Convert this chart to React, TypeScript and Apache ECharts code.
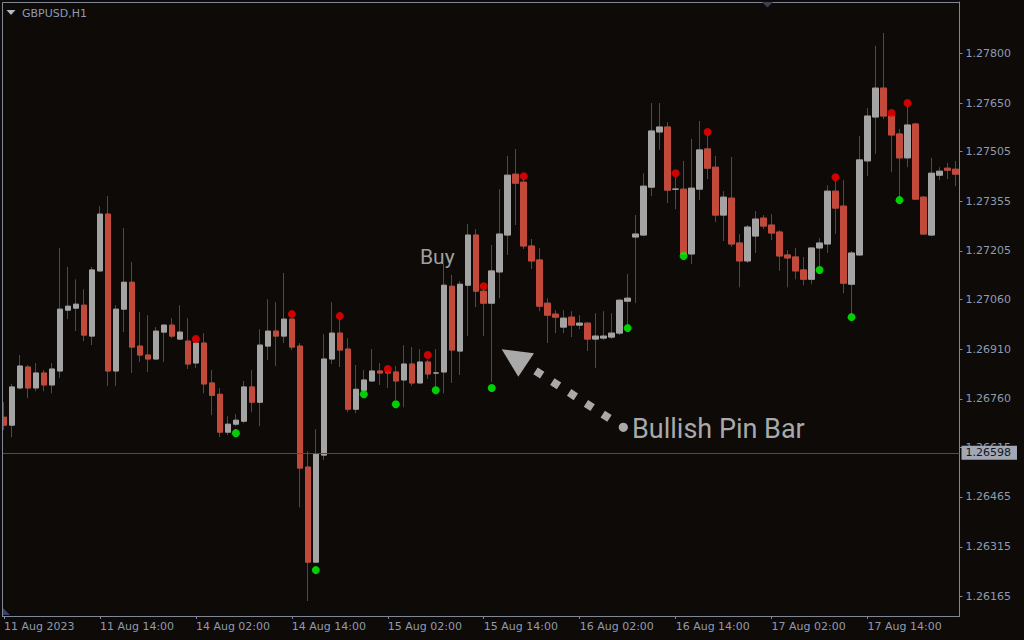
import React, { useEffect, useRef } from 'react';
import * as echarts from 'echarts';

const OPEN = [
  1.26705, 1.26681, 1.26793, 1.26856, 1.26793, 1.26838, 1.26802, 1.26844, 1.27027, 1.27033,
  1.27042, 1.26949, 1.27145, 1.27316, 1.26844, 1.27030, 1.27111, 1.26919, 1.26892, 1.26880,
  1.26961, 1.26982, 1.26940, 1.26934, 1.26868, 1.26928, 1.26808, 1.26774, 1.26660, 1.26684,
  1.26693, 1.26796, 1.26750, 1.26919, 1.26964, 1.26949, 1.27000, 1.26919, 1.26555, 1.26269,
  1.26591, 1.26880, 1.26958, 1.26910, 1.26729, 1.26786, 1.26814, 1.26844, 1.26841, 1.26841,
  1.26817, 1.26865, 1.26808, 1.26871, 1.26838, 1.26841, 1.27099, 1.26904, 1.27102, 1.27253,
  1.27084, 1.27048, 1.27142, 1.27253, 1.27436, 1.27412, 1.27220, 1.27178, 1.27048, 1.27015,
  1.26976, 1.27006, 1.26982, 1.26988, 1.26940, 1.26943, 1.26946, 1.26958, 1.27054, 1.27247,
  1.27253, 1.27397, 1.27563, 1.27578, 1.27391, 1.27391, 1.27196, 1.27391, 1.27512, 1.27457,
  1.27313, 1.27364, 1.27229, 1.27175, 1.27250, 1.27304, 1.27283, 1.27262, 1.27193, 1.27187,
  1.27148, 1.27120, 1.27214, 1.27226, 1.27385, 1.27340, 1.27105, 1.27193, 1.27476, 1.27608,
  1.27695, 1.27611, 1.27557, 1.27485, 1.27587, 1.27367, 1.27253, 1.27433, 1.27454, 1.27451,
];
const HIGH = [
  1.26750, 1.26805, 1.26892, 1.26862, 1.26868, 1.26847, 1.26868, 1.27214, 1.27157, 1.27120,
  1.27090, 1.27157, 1.27340, 1.27370, 1.27042, 1.27274, 1.27172, 1.27021, 1.27012, 1.26976,
  1.26985, 1.27003, 1.27042, 1.27003, 1.26931, 1.26958, 1.26847, 1.26793, 1.26708, 1.26714,
  1.26814, 1.26847, 1.26970, 1.27060, 1.27051, 1.27139, 1.27003, 1.26928, 1.26603, 1.26669,
  1.26955, 1.27051, 1.26997, 1.26943, 1.26862, 1.26847, 1.26910, 1.26868, 1.26847, 1.26859,
  1.26922, 1.26916, 1.26910, 1.26877, 1.26910, 1.27166, 1.27133, 1.27114, 1.27286, 1.27271,
  1.27090, 1.27223, 1.27391, 1.27491, 1.27512, 1.27421, 1.27241, 1.27214, 1.27063, 1.27027,
  1.27027, 1.27024, 1.27012, 1.26991, 1.27018, 1.27024, 1.27018, 1.27060, 1.27136, 1.27313,
  1.27439, 1.27650, 1.27650, 1.27593, 1.27427, 1.27476, 1.27542, 1.27596, 1.27551, 1.27491,
  1.27385, 1.27488, 1.27256, 1.27283, 1.27325, 1.27313, 1.27316, 1.27268, 1.27208, 1.27214,
  1.27187, 1.27217, 1.27244, 1.27403, 1.27415, 1.27418, 1.27205, 1.27551, 1.27635, 1.27822,
  1.27861, 1.27611, 1.27572, 1.27638, 1.27590, 1.27370, 1.27485, 1.27457, 1.27470, 1.27476,
];
const LOW = [
  1.26666, 1.26645, 1.26789, 1.26762, 1.26783, 1.26783, 1.26777, 1.26823, 1.27000, 1.26964,
  1.26934, 1.26922, 1.27142, 1.26799, 1.26799, 1.26961, 1.26838, 1.26871, 1.26841, 1.26877,
  1.26871, 1.26943, 1.26937, 1.26850, 1.26853, 1.26777, 1.26711, 1.26645, 1.26651, 1.26678,
  1.26687, 1.26720, 1.26678, 1.26877, 1.26859, 1.26928, 1.26907, 1.26434, 1.26152, 1.26266,
  1.26576, 1.26865, 1.26856, 1.26720, 1.26717, 1.26783, 1.26811, 1.26802, 1.26793, 1.26756,
  1.26735, 1.26799, 1.26805, 1.26820, 1.26796, 1.26777, 1.26808, 1.26832, 1.26949, 1.27036,
  1.26949, 1.26811, 1.27063, 1.27193, 1.27283, 1.27211, 1.27151, 1.27024, 1.26928, 1.26958,
  1.26958, 1.26946, 1.26970, 1.26904, 1.26853, 1.26937, 1.26940, 1.26952, 1.26985, 1.27048,
  1.27250, 1.27370, 1.27509, 1.27349, 1.27331, 1.27196, 1.27166, 1.27358, 1.27421, 1.27292,
  1.27235, 1.27217, 1.27096, 1.27169, 1.27199, 1.27271, 1.27238, 1.27145, 1.27096, 1.27120,
  1.27102, 1.27105, 1.27160, 1.27199, 1.27256, 1.27078, 1.27018, 1.27190, 1.27430, 1.27497,
  1.27602, 1.27442, 1.27367, 1.27457, 1.27358, 1.27253, 1.27250, 1.27418, 1.27421, 1.27400,
];
const CLOSE = [
  1.26681, 1.26796, 1.26859, 1.26793, 1.26838, 1.26802, 1.26850, 1.27030, 1.27039, 1.27045,
  1.26952, 1.27148, 1.27316, 1.26844, 1.27030, 1.27111, 1.26916, 1.26892, 1.26880, 1.26964,
  1.26982, 1.26949, 1.26961, 1.26865, 1.26928, 1.26805, 1.26771, 1.26660, 1.26684, 1.26696,
  1.26796, 1.26750, 1.26922, 1.26964, 1.26949, 1.27000, 1.26916, 1.26552, 1.26269, 1.26594,
  1.26880, 1.26958, 1.26907, 1.26729, 1.26789, 1.26817, 1.26844, 1.26838, 1.26838, 1.26814,
  1.26865, 1.26808, 1.26871, 1.26835, 1.26838, 1.27102, 1.26907, 1.27105, 1.27253, 1.27084,
  1.27048, 1.27145, 1.27256, 1.27433, 1.27409, 1.27220, 1.27175, 1.27039, 1.27012, 1.27006,
  1.27003, 1.26982, 1.26988, 1.26940, 1.26949, 1.26949, 1.26958, 1.27057, 1.27063, 1.27256,
  1.27400, 1.27566, 1.27578, 1.27388, 1.27391, 1.27196, 1.27394, 1.27509, 1.27454, 1.27313,
  1.27367, 1.27226, 1.27175, 1.27277, 1.27301, 1.27280, 1.27259, 1.27190, 1.27184, 1.27145,
  1.27120, 1.27214, 1.27229, 1.27385, 1.27334, 1.27108, 1.27199, 1.27479, 1.27611, 1.27695,
  1.27611, 1.27554, 1.27485, 1.27584, 1.27361, 1.27256, 1.27439, 1.27445, 1.27448, 1.27436,
];

// [candle index, price] of the indicator dots
const SELL_SIGNALS: [number, number][] = [
  [24, 1.26940], [36, 1.27015], [42, 1.27009], [48, 1.26850], [53, 1.26892], [60, 1.27099],
  [65, 1.27430], [84, 1.27439], [88, 1.27563], [104, 1.27427], [111, 1.27620], [113, 1.27650],
];
const BUY_SIGNALS: [number, number][] = [
  [29, 1.26657], [39, 1.26245], [45, 1.26774], [49, 1.26744], [54, 1.26786], [61, 1.26793],
  [78, 1.26973], [85, 1.27190], [102, 1.27148], [106, 1.27006], [112, 1.27358],
];

const Y_TICKS = [
  1.26165, 1.26315, 1.26465, 1.26615, 1.2676, 1.2691, 1.2706, 1.27205, 1.27355, 1.27505, 1.2765, 1.278,
];
const Y_MIN = 1.26107;
const Y_MAX = 1.27954;
const PRICE_LINE = 1.26598;
const FIRST_LABEL = '11 Aug 2023';
const SYMBOL = 'GBPUSD,H1';

const MONTHS = ['Jan', 'Feb', 'Mar', 'Apr', 'May', 'Jun', 'Jul', 'Aug', 'Sep', 'Oct', 'Nov', 'Dec'];

function buildCategories(n: number): string[] {
  const out: string[] = [];
  let t = Date.UTC(2023, 7, 11, 2);
  while (out.length < n) {
    const d = new Date(t);
    const wd = d.getUTCDay();
    if (wd !== 0 && wd !== 6) {
      const hh = String(d.getUTCHours()).padStart(2, '0');
      out.push(`${d.getUTCDate()} ${MONTHS[d.getUTCMonth()]} ${hh}:00`);
    }
    t += 3600 * 1000;
  }
  return out;
}

const CATEGORIES = buildCategories(OPEN.length);

const BG = '#0d0a08';
const AXIS = '#7f8799';
const TXT = '#8e9bb0';
const BULL = '#a4a4a4';
const BEAR = '#c34a3b';
const WICK = '#4b4b4b';
const NOTE = '#a9a9a9';
const FONT = 'DejaVu Sans';

export default function App() {
  const ref = useRef<HTMLDivElement>(null);

  useEffect(() => {
    if (!ref.current) return;
    const chart = echarts.init(ref.current, undefined, { renderer: 'svg' });

    const full = OPEN.map((o, i) => [o, CLOSE[i], LOW[i], HIGH[i]]);
    const bodies = OPEN.map((o, i) => [o, CLOSE[i], Math.min(o, CLOSE[i]), Math.max(o, CLOSE[i])]);

    const option: any = {
      animation: false,
      backgroundColor: BG,
      grid: { left: -0.5, right: 64.5, top: 2, bottom: 24, containLabel: false },
      xAxis: {
        type: 'category',
        data: CATEGORIES,
        boundaryGap: true,
        axisLine: { show: true, lineStyle: { color: AXIS, width: 1 } },
        axisTick: { show: true, interval: 11, alignWithLabel: true, length: 3, lineStyle: { color: AXIS } },
        axisLabel: {
          interval: 11,
          align: 'left',
          margin: 5,
          color: TXT,
          fontFamily: FONT,
          fontSize: 11,
          formatter: (v: string, i: number) => (i === 0 ? FIRST_LABEL : v),
        },
        splitLine: { show: false },
      },
      yAxis: {
        type: 'value',
        position: 'right',
        min: Y_MIN,
        max: Y_MAX,
        axisLine: { show: true, lineStyle: { color: AXIS, width: 1 } },
        axisTick: { show: true, length: 3, customValues: Y_TICKS, lineStyle: { color: AXIS } },
        axisLabel: {
          customValues: Y_TICKS,
          formatter: (v: number) => v.toFixed(5),
          margin: 6,
          color: TXT,
          fontFamily: FONT,
          fontSize: 11,
        },
        splitLine: { show: false },
      },
      series: [
        {
          type: 'candlestick',
          name: 'wicks',
          data: full,
          barWidth: 6,
          z: 2,
          itemStyle: {
            color: 'rgba(0,0,0,0)',
            color0: 'rgba(0,0,0,0)',
            borderColor: WICK,
            borderColor0: WICK,
            borderWidth: 1,
          },
        },
        {
          type: 'candlestick',
          name: 'bodies',
          data: bodies,
          barWidth: 6,
          z: 3,
          itemStyle: {
            color: BULL,
            color0: BEAR,
            borderColor: BULL,
            borderColor0: BEAR,
            borderWidth: 1,
          },
        },
        {
          type: 'scatter',
          name: 'sell',
          data: SELL_SIGNALS,
          symbol: 'circle',
          symbolSize: 8,
          z: 4,
          itemStyle: { color: '#ff0000' },
        },
        {
          type: 'scatter',
          name: 'buy',
          data: BUY_SIGNALS,
          symbol: 'circle',
          symbolSize: 8,
          z: 4,
          itemStyle: { color: '#00ff00' },
          markLine: {
            silent: true,
            symbol: 'none',
            precision: 5,
            animation: false,
            data: [{ yAxis: PRICE_LINE }],
            lineStyle: { color: '#4c4c5c', width: 1, type: 'solid' },
            label: {
              show: true,
              position: 'end',
              distance: 2,
              formatter: PRICE_LINE.toFixed(5),
              backgroundColor: '#a2a7b4',
              color: '#121524',
              fontFamily: FONT,
              fontSize: 11,
              lineHeight: 12,
              padding: [1, 6, 1, 4],
            },
          },
        },
      ],
      graphic: [
        { type: 'rect', z: 100, shape: { x: 0, y: 0, width: 2, height: 617 }, style: { fill: BG } },
        { type: 'line', z: 101, shape: { x1: 2.5, y1: 2.5, x2: 2.5, y2: 616 }, style: { stroke: AXIS, lineWidth: 1 } },
        { type: 'line', z: 101, shape: { x1: 2.5, y1: 2.5, x2: 960, y2: 2.5 }, style: { stroke: AXIS, lineWidth: 1 } },
        { type: 'polygon', z: 102, shape: { points: [[762, 2], [773, 2], [767.5, 7.5]] }, style: { fill: '#3a3f55' } },
        { type: 'polygon', z: 102, shape: { points: [[3, 608], [3, 615], [10, 615]] }, style: { fill: '#3a3f6a' } },
        { type: 'polygon', z: 102, shape: { points: [[6.5, 10], [15.5, 10], [11, 15]] }, style: { fill: '#b4b8c2' } },
        {
          type: 'text', z: 102, x: 22, y: 13,
          style: { text: SYMBOL, fill: TXT, font: `11px "${FONT}"`, textAlign: 'left', textVerticalAlign: 'middle' },
        },
        {
          type: 'text', z: 102, x: 420, y: 257,
          style: { text: 'Buy', fill: '#a0a0a0', font: '21px Roboto', textAlign: 'left', textVerticalAlign: 'middle' },
        },
        {
          type: 'polygon', z: 102,
          shape: { points: [[501.7, 349.3], [534, 353.3], [518.3, 376.7]] },
          style: { fill: NOTE },
        },
        {
          type: 'line', z: 102,
          shape: { x1: 535.5, y1: 370.8, x2: 610, y2: 418.8 },
          style: { stroke: NOTE, lineWidth: 8, lineDash: [8, 12], lineCap: 'butt' },
        },
        { type: 'circle', z: 102, shape: { cx: 623.3, cy: 427.3, r: 4.6 }, style: { fill: NOTE } },
        {
          type: 'text', z: 102, x: 632, y: 429,
          style: { text: 'Bullish Pin Bar', fill: NOTE, font: '27px Roboto', textAlign: 'left', textVerticalAlign: 'middle' },
        },
      ],
    };

    chart.setOption(option);
    return () => chart.dispose();
  }, []);

  return (
    <div
      ref={ref}
      style={{ position: 'absolute', left: 0, top: 0, width: 1024, height: 640, background: BG }}
    />
  );
}
